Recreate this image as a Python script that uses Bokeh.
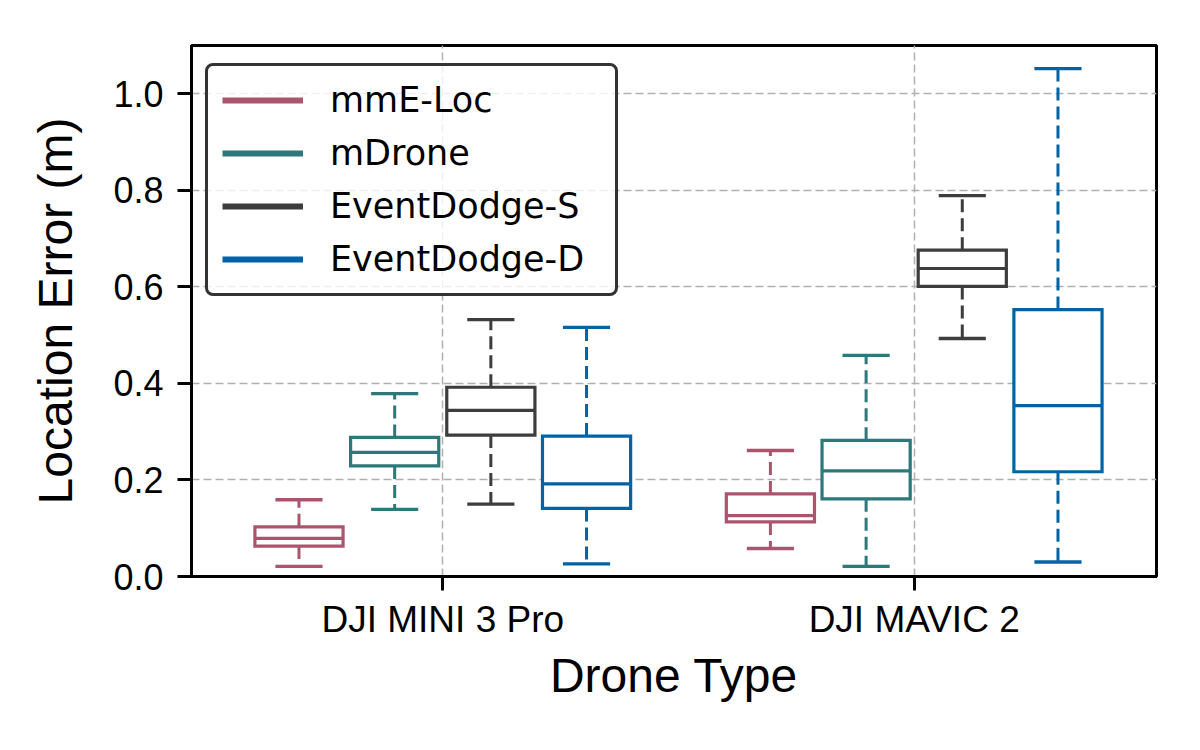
import math
from bokeh.plotting import figure
from bokeh.models import (ColumnDataSource, Range1d, FixedTicker, PrintfTickFormatter,
                          Legend, LegendItem)
from bokeh.embed import file_html
from bokeh.resources import INLINE

# ---------------- data ----------------
drone_types = ["DJI MINI 3 Pro", "DJI MAVIC 2"]
methods = ["mmE-Loc", "mDrone", "EventDodge-S", "EventDodge-D"]
colors = ["#AB546E", "#2D787A", "#3D3D3D", "#0063A5"]

mmeloc_low = [0.021, 0.058]
mmeloc_q1 = [0.063, 0.113]
mmeloc_med = [0.079, 0.126]
mmeloc_q3 = [0.103, 0.171]
mmeloc_high = [0.159, 0.261]

mdrone_low = [0.139, 0.021]
mdrone_q1 = [0.229, 0.161]
mdrone_med = [0.257, 0.219]
mdrone_q3 = [0.288, 0.282]
mdrone_high = [0.379, 0.458]

eds_low = [0.150, 0.493]
eds_q1 = [0.293, 0.601]
eds_med = [0.344, 0.638]
eds_q3 = [0.392, 0.676]
eds_high = [0.532, 0.789]

edd_low = [0.026, 0.030]
edd_q1 = [0.141, 0.217]
edd_med = [0.192, 0.354]
edd_q3 = [0.291, 0.553]
edd_high = [0.516, 1.052]

stats = [
    (mmeloc_low, mmeloc_q1, mmeloc_med, mmeloc_q3, mmeloc_high),
    (mdrone_low, mdrone_q1, mdrone_med, mdrone_q3, mdrone_high),
    (eds_low, eds_q1, eds_med, eds_q3, eds_high),
    (edd_low, edd_q1, edd_med, edd_q3, edd_high),
]

y_ticks = [0.0, 0.2, 0.4, 0.6, 0.8, 1.0]

# ---------------- layout constants ----------------
offsets = [-0.305, -0.102, 0.102, 0.305]
box_w = 0.187
cap_half = 0.05

p = figure(width=1184, height=734, output_backend="svg", toolbar_location=None,
           x_range=Range1d(-0.533, 1.514), y_range=Range1d(0, 1.1),
           min_border_left=191, min_border_right=28, min_border_top=45,
           min_border_bottom=158)

p.background_fill_color = "white"
p.border_fill_color = "white"
p.outline_line_color = "black"
p.outline_line_width = 3
p.outline_line_alpha = 1

# grids
p.xgrid.ticker = FixedTicker(ticks=list(range(len(drone_types))))
p.ygrid.ticker = FixedTicker(ticks=y_ticks)
for g in (p.xgrid, p.ygrid):
    g.grid_line_color = "#b0b0b0"
    g.grid_line_width = 1.5
    g.grid_line_dash = "8 4"

# axes
p.xaxis.ticker = FixedTicker(ticks=list(range(len(drone_types))))
p.xaxis.major_label_overrides = {i: n for i, n in enumerate(drone_types)}
p.yaxis.ticker = FixedTicker(ticks=y_ticks)
p.yaxis.formatter = PrintfTickFormatter(format="%.1f")
p.xaxis.axis_label = "Drone Type"
p.yaxis.axis_label = "Location Error (m)"
for ax in (p.xaxis, p.yaxis):
    ax.axis_line_width = 3
    ax.axis_line_color = "black"
    ax.major_tick_line_width = 3
    ax.major_tick_line_color = "black"
    ax.major_tick_out = 14
    ax.major_tick_in = 0
    ax.minor_tick_line_color = None
    ax.major_label_text_font = "Liberation Sans"
    ax.major_label_text_color = "black"
    ax.axis_label_text_font = "Liberation Sans"
    ax.axis_label_text_font_size = "48px"
    ax.axis_label_text_font_style = "normal"
    ax.axis_label_text_color = "black"
p.xaxis.major_label_text_font_size = "37px"
p.yaxis.major_label_text_font_size = "36px"
p.xaxis.major_label_standoff = 8
p.yaxis.major_label_standoff = 14
p.xaxis.axis_label_standoff = 6
p.yaxis.axis_label_standoff = 28

legend_items = []
for k, (name, col) in enumerate(zip(methods, colors)):
    low, q1, med, q3, high = stats[k]
    xs = [i + offsets[k] for i in range(len(drone_types))]
    src = ColumnDataSource(dict(
        x=xs, x0=[x - box_w / 2 for x in xs], x1=[x + box_w / 2 for x in xs],
        c0=[x - cap_half for x in xs], c1=[x + cap_half for x in xs],
        low=low, q1=q1, med=med, q3=q3, high=high))
    # whiskers
    p.segment(x0="x", y0="q3", x1="x", y1="high", source=src, line_color=col,
              line_width=3, line_dash="13 6")
    p.segment(x0="x", y0="q1", x1="x", y1="low", source=src, line_color=col,
              line_width=3, line_dash="13 6")
    # caps
    p.segment(x0="c0", y0="high", x1="c1", y1="high", source=src, line_color=col,
              line_width=3.3)
    p.segment(x0="c0", y0="low", x1="c1", y1="low", source=src, line_color=col,
              line_width=3.3)
    # box
    p.quad(left="x0", right="x1", bottom="q1", top="q3", source=src,
           fill_color="white", line_color=col, line_width=3.2, line_join="miter")
    # median
    p.segment(x0="x0", y0="med", x1="x1", y1="med", source=src, line_color=col,
              line_width=3.2)
    # legend proxy
    proxy = p.line(x=[math.nan], y=[math.nan], line_color=col, line_width=6)
    legend_items.append(LegendItem(label=name, renderers=[proxy]))

legend = Legend(items=legend_items, location=(14, 280), margin=0,
                padding=14, spacing=13, glyph_width=81, glyph_height=40,
                label_height=40, label_width=271, label_standoff=27,
                label_text_font="DejaVu Sans", label_text_font_size="35px",
                label_text_color="black", label_text_baseline="middle",
                border_line_color="#333333", border_line_width=3.5,
                border_line_alpha=1.0,
                background_fill_color="white", background_fill_alpha=0.8)
try:
    legend.border_radius = 8
except Exception:
    pass
p.add_layout(legend, "center")

open("out.html", "w").write(file_html(p, INLINE))
